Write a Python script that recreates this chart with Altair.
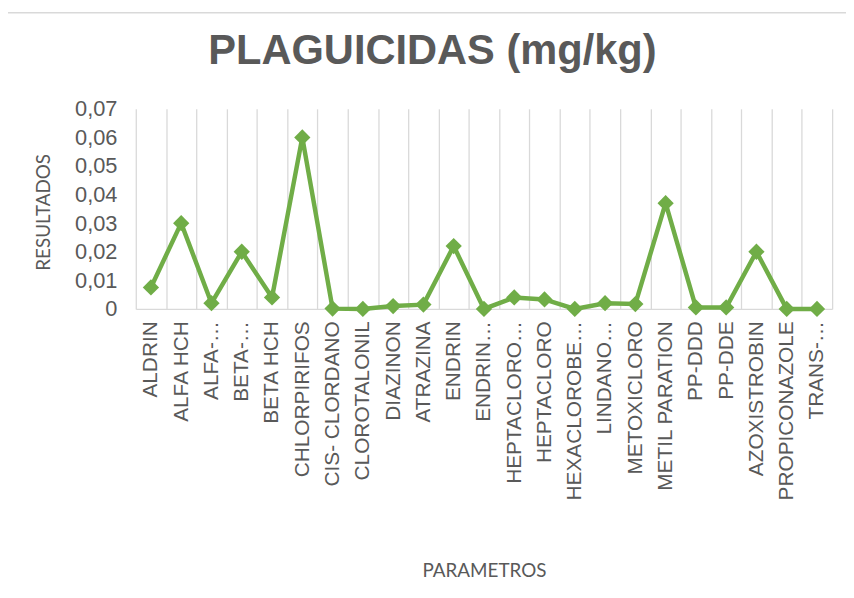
import altair as alt
import pandas as pd

categories = [
    "ALDRIN", "ALFA HCH", "ALFA-…", "BETA-…", "BETA HCH", "CHLORPIRIFOS",
    "CIS- CLORDANO", "CLOROTALONIL", "DIAZINON", "ATRAZINA", "ENDRIN",
    "ENDRIN…", "HEPTACLORO…", "HEPTACLORO", "HEXACLOROBE…", "LINDANO…",
    "METOXICLORO", "METIL PARATION", "PP-DDD", "PP-DDE", "AZOXISTROBIN",
    "PROPICONAZOLE", "TRANS-…",
]
values = [
    0.0075, 0.030, 0.002, 0.020, 0.004, 0.060,
    0.0001, 0.0, 0.001, 0.0015, 0.022,
    0.0, 0.004, 0.0033, 0.0, 0.002,
    0.0017, 0.037, 0.0005, 0.0005, 0.020,
    0.0, 0.0,
]
y_ticks = [0, 0.01, 0.02, 0.03, 0.04, 0.05, 0.06, 0.07]

df = pd.DataFrame({"PARAMETROS": categories, "RESULTADOS": values})

GREEN = "#70AD47"
GREY_TXT = "#595959"
GRID = "#D9D9D9"

x_enc = alt.X(
    "PARAMETROS:N",
    sort=categories,
    scale=alt.Scale(type="band", paddingInner=0, paddingOuter=0),
    axis=alt.Axis(
        title="PARAMETROS",
        labelAngle=-90,
        labelFont="Liberation Sans",
        labelFontSize=21,
        labelColor=GREY_TXT,
        labelPadding=12,
        labelLimit=400,
        ticks=False,
        grid=True,
        gridColor=GRID,
        gridWidth=1.3,
        tickBand="extent",
        domainColor=GRID,
        domainWidth=1.3,
        titleFont="Lato",
        titleFontSize=19,
        titleFontWeight="normal",
        titleColor=GREY_TXT,
        titleY=264,
        titleBaseline="middle",
    ),
)

y_enc = alt.Y(
    "RESULTADOS:Q",
    scale=alt.Scale(domain=[0, 0.07], nice=False),
    axis=alt.Axis(
        title="RESULTADOS",
        values=y_ticks,
        labelExpr="datum.value == 0 ? '0' : replace(format(datum.value, '.2f'), '.', ',')",
        labelFont="Liberation Sans",
        labelFontSize=22,
        labelColor=GREY_TXT,
        labelPadding=19,
        ticks=False,
        domain=False,
        grid=False,
        titleFont="Lato",
        titleFontSize=19,
        titleFontWeight="normal",
        titleColor=GREY_TXT,
        titleAngle=-90,
        titleX=-93,
        titleY=104,
        titleAlign="center",
        titleBaseline="middle",
    ),
)

line = alt.Chart(df).mark_line(
    color=GREEN,
    strokeWidth=4.5,
    point=alt.OverlayMarkDef(shape="diamond", size=270, filled=True, color=GREEN, opacity=1),
).encode(x=x_enc, y=y_enc)

border_df = pd.DataFrame({"b": [0]})
border_top = alt.Chart(border_df).mark_rule(color=GRID, strokeWidth=1.5).encode(
    x=alt.value(-130), x2=alt.value(717), y=alt.value(-97)
)
border_left = alt.Chart(border_df).mark_rule(color=GRID, strokeWidth=1.5).encode(
    x=alt.value(-130), y=alt.value(-97), y2=alt.value(491)
)

chart = (
    alt.layer(border_top, border_left, line)
    .properties(
        width=703,
        height=202,
        autosize=alt.AutoSizeParams(type="none"),
        padding={"left": 129, "top": 99, "right": 14, "bottom": 281},
        title=alt.TitleParams(
            "PLAGUICIDAS (mg/kg)",
            font="Liberation Sans",
            fontSize=42,
            fontWeight="bold",
            color=GREY_TXT,
            anchor="middle",
            baseline="alphabetic",
            offset=-95,
            dx=-52,
        ),
    )
    .configure_view(stroke=None)
)

chart.save("out.html", embed_options={"renderer": "svg", "actions": False})
